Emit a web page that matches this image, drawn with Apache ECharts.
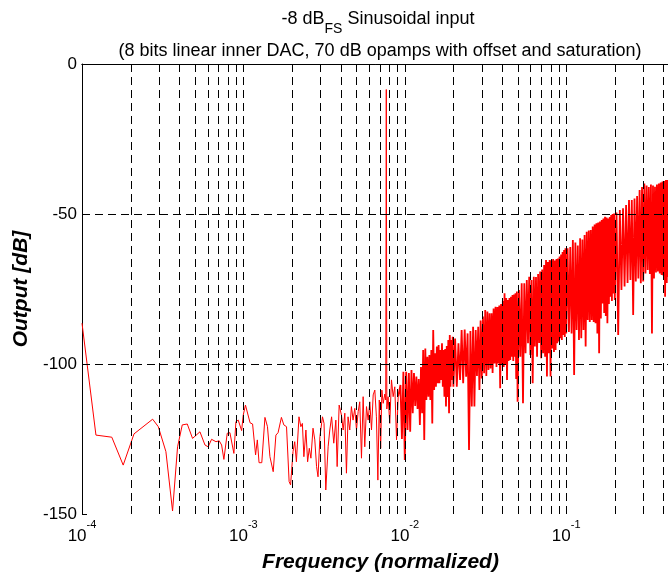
<!DOCTYPE html>
<html><head><meta charset="utf-8">
<script src="https://cdn.jsdelivr.net/npm/echarts@6/dist/echarts.min.js"></script>
<style>html,body{margin:0;padding:0;background:#fff}#c{width:668px;height:575px}</style>
</head><body><div id="c"></div>
<script>
const FONT = '"Liberation Sans", Arial, Helvetica, sans-serif';

// ---- spectrum, low-frequency part (individual bins readable) ----
const lowFreq = [1.00e-4,1.22e-4,1.53e-4,1.80e-4,2.10e-4,2.74e-4,2.97e-4,3.31e-4,3.64e-4,3.91e-4,
  4.18e-4,4.49e-4,4.84e-4,5.38e-4,5.78e-4,6.05e-4,6.35e-4,6.76e-4,7.08e-4,7.33e-4,
  7.57e-4,7.94e-4,8.25e-4,8.73e-4,8.99e-4,9.29e-4,9.75e-4,9.98e-4,1.03e-3,1.10e-3,
  1.14e-3,1.19e-3,1.22e-3,1.25e-3,1.30e-3,1.36e-3,1.41e-3,1.46e-3,1.53e-3,1.59e-3,
  1.64e-3,1.72e-3,1.78e-3,1.85e-3,1.92e-3,1.96e-3,2.03e-3,2.08e-3,2.13e-3,2.21e-3,
  2.27e-3,2.32e-3,2.37e-3,2.44e-3,2.50e-3,2.56e-3,2.62e-3,2.70e-3,2.77e-3,2.84e-3,
  2.90e-3,2.98e-3,3.09e-3,3.16e-3,3.24e-3,3.35e-3,3.43e-3,3.52e-3,3.63e-3,3.74e-3,
  3.81e-3,3.92e-3,4.05e-3,4.15e-3,4.25e-3,4.35e-3,4.45e-3,4.56e-3,4.67e-3,4.78e-3,
  4.90e-3,5.02e-3,5.14e-3,5.26e-3,5.39e-3,5.52e-3,5.65e-3,5.79e-3,5.93e-3,6.07e-3,
  6.22e-3,6.37e-3,6.52e-3,6.67e-3,6.81e-3,6.95e-3,7.09e-3,7.21e-3,7.35e-3,7.52e-3,
  7.62e-3,7.68e-3,7.74e-3,7.88e-3,8.07e-3,8.27e-3,8.47e-3,8.67e-3,8.89e-3,9.10e-3];
const lowDb = [-86.4,-123.7,-124.4,-133.7,-123.3,-118.4,-120.9,-129.2,-149,-127.6,
  -120.3,-120,-124.8,-122.6,-127,-127.6,-125.1,-125.9,-125.6,-127,
  -131.8,-123.1,-122.9,-129.8,-119.2,-118.7,-122.2,-117,-113.7,-119.6,
  -120,-130.3,-125.3,-132.9,-132.9,-117.8,-120.9,-130.9,-135.9,-123.7,
  -122.9,-117.8,-120.3,-120.9,-139.2,-140.3,-129.2,-125.9,-132.6,-117.6,
  -120.9,-119.8,-130.9,-122,-132.6,-128.1,-131.4,-121.4,-125.3,-134.2,
  -137.6,-124.2,-117.6,-119.8,-142,-127.6,-122,-117.6,-126.4,-118.7,
  -134.2,-113.7,-117,-122,-116.4,-136.4,-117.6,-122,-114.2,-118.7,
  -114.8,-122,-115.9,-112.6,-131.4,-110.9,-127.6,-114.2,-118.7,-112.6,
  -122,-110.3,-108.7,-117.6,-138.7,-112,-128.1,-108.7,-113.1,-110,
  -112,-8.5,-115,-110.9,-119.8,-105.3,-110.9,-107.6,-125.3,-110.9];

// ---- spectrum, dense high-frequency part ----
const freqA = [0.0094,0.0096,0.0098,0.01,0.0102,0.0104,0.0106,0.0108,0.011,0.0112,
  0.0114,0.0116,0.0118,0.012,0.0122,0.0124,0.0126,0.0128,0.013,0.0132,
  0.0134,0.0136,0.0138,0.014,0.0142,0.0144,0.0146,0.0148,0.015,0.0152,
  0.0154,0.0156,0.0158,0.016,0.0162,0.0164,0.0166,0.0168,0.017,0.0172,
  0.0174,0.0176,0.0178,0.018,0.0182,0.0184,0.0186,0.0188,0.019,0.0192,
  0.0194,0.0196,0.0198,0.02];
const dbA = [-107,-125,-102.6,-132,-102.6,-122,-103,-122.6,-102,-116.4,
  -103,-114,-104.2,-115,-105,-120.3,-101,-116.4,-95.3,-125.3,
  -94.8,-112,-97.6,-110.9,-97,-112,-95.3,-119.8,-88.7,-108.7,
  -96.4,-107.6,-94.2,-106.4,-93.7,-106.4,-95.3,-105.3,-93.1,-107.6,
  -95.3,-110.9,-95,-114.2,-94,-111,-92,-116.4,-90.3,-107.6,
  -92,-105.3,-90.9,-107.6];
const freqB = [0.0205,0.021,0.0215,0.022,0.0225,0.023,0.0235,0.024,0.0245,0.025,
  0.0255,0.026,0.0265,0.027,0.0275,0.028,0.0285,0.029,0.0295,0.03,
  0.0305,0.031,0.0315,0.032,0.0325,0.033,0.0335,0.034,0.0345,0.035,
  0.0355,0.036,0.0365,0.037,0.0375,0.038,0.0385,0.039,0.0395,0.04,
  0.0405,0.041,0.0415,0.042,0.0425,0.043,0.0435,0.044,0.0445,0.045,
  0.0455,0.046,0.0465,0.047,0.0475,0.048,0.0485,0.049,0.0495,0.05];
const dbB = [-91.5,-107.6,-93.1,-105.3,-88.7,-106.4,-88.5,-104.2,-89.8,-128.7,
  -89,-114.2,-87.6,-114.2,-88.7,-104,-87.6,-108.7,-85.5,-104.8,
  -84.2,-103.1,-82,-104,-82.5,-102,-83.1,-101.5,-83.1,-103,
  -81.5,-99.8,-80.9,-101,-81,-99.8,-80.5,-108.1,-80,-100,
  -79,-101,-76.4,-100,-78,-105.3,-78.7,-99,-78,-98.7,
  -77.6,-97.6,-77,-99,-76.8,-97.6,-76.4,-105,-75.8,-112.6];
const freqC = [0.051,0.052,0.053,0.054,0.055,0.056,0.057,0.058,0.059,0.06,
  0.061,0.062,0.063,0.064,0.065,0.066,0.067,0.068,0.069,0.07,
  0.071,0.072,0.073,0.074,0.075,0.076,0.077,0.078,0.079,0.08,
  0.081,0.082,0.083,0.084,0.085,0.086,0.087,0.088,0.089,0.09,
  0.091,0.092,0.093,0.094,0.095,0.096,0.097,0.098,0.099,0.1];
const dbC = [-75.3,-97.6,-73.1,-113.1,-73.1,-96.4,-72,-93.1,-70.9,-97,
  -72,-106.4,-70.9,-94.2,-71,-97.6,-70,-93,-69.2,-98.1,
  -68.5,-96.4,-67,-97.6,-65.3,-104.2,-66,-96.4,-65.3,-104.2,
  -65.5,-94.8,-65,-96,-65.5,-95.3,-65,-93.1,-64.8,-92.5,
  -64.2,-91.4,-63.5,-92,-62.7,-90.3,-62,-91,-61.4,-89.8];
const freqD = [0.102,0.104,0.106,0.108,0.11,0.112,0.114,0.116,0.118,0.12,
  0.122,0.124,0.126,0.128,0.13,0.132,0.134,0.136,0.138,0.14,
  0.142,0.144,0.146,0.148,0.15,0.152,0.154,0.156,0.158,0.16,
  0.162,0.164,0.166,0.168,0.17,0.172,0.174,0.176,0.178,0.18,
  0.182,0.184,0.186,0.188,0.19,0.192,0.194,0.196,0.198,0.2];
const dbD = [-61.4,-89.3,-61,-89.8,-58.7,-103.7,-59.5,-88.7,-60.5,-92,
  -58.1,-91.4,-58.5,-88.7,-57,-94.2,-55.9,-85.3,-55.5,-86,
  -55.3,-85.3,-54.2,-86,-53.5,-86.4,-53.1,-89.8,-52.8,-96.4,
  -52.5,-84.8,-52,-79.8,-51.5,-83,-50.9,-84,-51.2,-86.4,
  -51.5,-80,-51,-77.6,-50.3,-79,-50,-76.5,-49.8,-78.7];
const freqE = [0.205,0.21,0.215,0.22,0.225,0.23,0.235,0.24,0.245,0.25,
  0.255,0.26,0.265,0.27,0.275,0.28,0.285,0.29,0.295,0.3,
  0.305,0.31,0.315,0.32,0.325,0.33,0.335,0.34,0.345,0.35,
  0.355,0.36,0.365,0.37,0.375,0.38,0.385,0.39,0.395,0.4,
  0.405,0.41,0.415,0.42,0.425,0.43,0.435,0.44,0.445,0.45,
  0.455,0.46,0.465,0.47,0.475,0.48,0.485,0.49,0.495,0.5];
const dbE = [-49.5,-90.3,-48.7,-75.3,-48.1,-74.2,-47,-73,-45.3,-72,
  -45.3,-83.7,-44.8,-72.5,-44,-71.5,-42,-73.1,-41,-72.5,
  -39.8,-69.8,-40.5,-68.7,-41,-70,-40.2,-89.8,-40.5,-71.5,
  -40.9,-69.5,-40.2,-69.2,-39.8,-69.8,-39.5,-70.3,-39.2,-70.5,
  -39,-77.6,-38.7,-73,-38.7,-71,-38.5,-72,-38.5,-70,
  -38.2,-71,-38,-70,-38,-71,-37.8,-70,-37.8,-70];

// ---- axes / grid ----
const xMin = 1e-4, xMax = 0.5;
const yMin = -150, yMax = 0, yStep = 50;
const xGridTicks = [2e-4,3e-4,4e-4,5e-4,6e-4,7e-4,8e-4,9e-4,
  1e-3,2e-3,3e-3,4e-3,5e-3,6e-3,7e-3,8e-3,9e-3,
  1e-2,2e-2,3e-2,4e-2,5e-2,6e-2,7e-2,8e-2,9e-2,
  0.1,0.2,0.3,0.4];
const yGridTicks = [-50,-100];

function zip(f, d){ return f.map(function(v,i){ return [v, d[i]]; }); }
const lowPart = zip(lowFreq, lowDb);
let densePart = [lowPart[lowPart.length-1]];
[[freqA,dbA],[freqB,dbB],[freqC,dbC],[freqD,dbD],[freqE,dbE]].forEach(function(p){
  densePart = densePart.concat(zip(p[0], p[1]));
});

const chart = echarts.init(document.getElementById('c'), null, {renderer:'canvas'});
const px = v => Math.round(v) + 0.5;
const option = {
  animation: false,
  backgroundColor: '#fff',
  title: [
    {text:'{a|-8 dB}{s|FS}{a| Sinusoidal input}', left:378, top:10, padding:0, textAlign:'center',
     textStyle:{rich:{
       a:{fontSize:18, fontWeight:'normal', fontFamily:FONT, color:'#000', lineHeight:20, verticalAlign:'top'},
       s:{fontSize:14, fontWeight:'normal', fontFamily:FONT, color:'#000', lineHeight:26, verticalAlign:'bottom'}}}},
    {text:'(8 bits linear inner DAC, 70 dB opamps with offset and saturation)', left:380, top:41, padding:0, textAlign:'center',
     textStyle:{fontSize:18, fontWeight:'normal', fontFamily:FONT, color:'#000', lineHeight:20}}
  ],
  grid: {left:82, top:64, width:597, bottom:61, containLabel:false, outerBoundsMode:'none'},
  xAxis: [
    {type:'log', logBase:10, min:xMin, max:xMax, position:'bottom',
     axisLine:{show:true, lineStyle:{color:'#000', width:1}},
     axisTick:{show:false}, splitLine:{show:false}, minorTick:{show:false}, minorSplitLine:{show:false},
     axisLabel:{margin:5, color:'#000', fontFamily:FONT,
       formatter: function(v){
         const e = Math.log10(v); const r = Math.round(e);
         if (Math.abs(e - r) < 1e-6) return '{b|10}{s|' + r + '}';
         return '';
       },
       rich:{
         b:{fontSize:17, fontFamily:FONT, color:'#000', lineHeight:26, verticalAlign:'bottom'},
         s:{fontSize:11, fontFamily:FONT, color:'#000', lineHeight:12, verticalAlign:'top'}}},
     name:'Frequency (normalized)', nameLocation:'middle', nameGap:38,
     nameTextStyle:{fontSize:21, fontWeight:'bold', fontStyle:'italic', fontFamily:FONT, color:'#000'}},
    {type:'log', logBase:10, min:xMin, max:xMax, position:'top',
     axisLine:{show:true, lineStyle:{color:'#000', width:1}},
     axisTick:{show:false}, axisLabel:{show:false}, splitLine:{show:false}}
  ],
  yAxis: {type:'value', min:yMin, max:yMax, interval:yStep,
    axisLine:{show:true, lineStyle:{color:'#000', width:1}},
    axisTick:{show:true, inside:true, length:5, lineStyle:{color:'#000'}},
    splitLine:{show:false},
    axisLabel:{margin:5, fontSize:17, color:'#000', fontFamily:FONT},
    name:'Output [dB]', nameLocation:'middle', nameGap:39,
    nameTextStyle:{fontSize:21, fontWeight:'bold', fontStyle:'italic', fontFamily:FONT, color:'#000'}},
  series: [
    {type:'line', data:lowPart, showSymbol:false, symbol:'none', z:3,
     lineStyle:{color:'#ff0000', width:1}, itemStyle:{color:'#ff0000'}, clip:true},
    {type:'line', data:densePart, showSymbol:false, symbol:'none', z:3,
     lineStyle:{color:'#ff0000', width:1.8}, itemStyle:{color:'#ff0000'}, clip:true},
    {type:'custom', silent:true, z:5, clip:false,
     data: xGridTicks.map(v => [v, yMin]),
     renderItem: function(params, api){
       const f = api.value(0);
       const top = api.coord([f, yMax]); const bot = api.coord([f, yMin]);
       const x = px(top[0]);
       return {type:'group', children:[
         {type:'line', shape:{x1:x, y1:bot[1], x2:x, y2:top[1]}, style:{stroke:'#000', lineWidth:1, lineDash:[8,5]}},
         {type:'line', shape:{x1:x, y1:bot[1], x2:x, y2:bot[1]-5}, style:{stroke:'#000', lineWidth:1}},
         {type:'line', shape:{x1:x, y1:top[1], x2:x, y2:top[1]+5}, style:{stroke:'#000', lineWidth:1}}
       ]};
     }},
    {type:'custom', silent:true, z:5, clip:false,
     data: yGridTicks.map(v => [xMin, v]),
     renderItem: function(params, api){
       const v = api.value(1);
       const l = api.coord([xMin, v]); const r = api.coord([xMax, v]);
       const y = px(l[1]);
       return {type:'line', shape:{x1:l[0], y1:y, x2:r[0], y2:y}, style:{stroke:'#000', lineWidth:1, lineDash:[8,5]}};
     }}
  ]
};
chart.setOption(option);
</script></body></html>
